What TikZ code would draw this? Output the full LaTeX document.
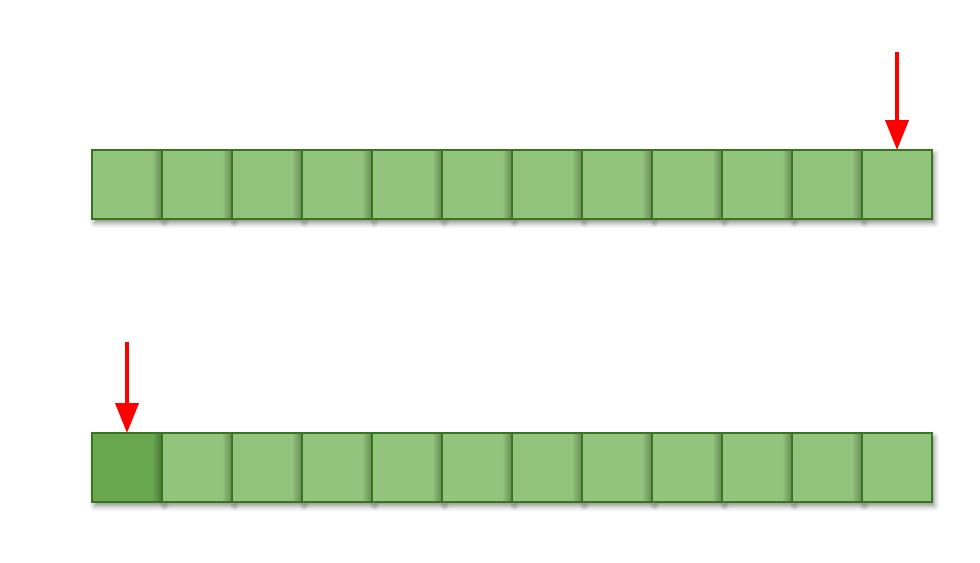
\documentclass[tikz,border=0pt]{standalone}
\usetikzlibrary{arrows.meta,shadows.blur}
\definecolor{cellfill}{HTML}{93C47D}
\definecolor{cellfilldark}{HTML}{6AA84F}
\definecolor{celledge}{HTML}{38761D}
\definecolor{arrowred}{HTML}{FF0000}
\tikzset{
  cell/.style={draw=celledge, fill=cellfill, line width=0.04cm, minimum width=1.4cm, minimum height=1.38cm, inner sep=0pt, outer sep=0pt,
    blur shadow={shadow xshift=0.05cm, shadow yshift=-0.08cm, shadow blur radius=0.1cm, shadow opacity=45}},
  darkcell/.style={cell, fill=cellfilldark},
  edgeshade/.style={left color=#1, right color=#1!72!black, draw=none},
  pointer/.style={draw=arrowred, line width=0.08cm, -{Triangle[width=0.46cm,length=0.6cm]}, arrowred}
}
\begin{document}
\begin{tikzpicture}[x=0.02cm,y=-0.02cm]
\useasboundingbox (0,0) rectangle (980,563);
% top row
\foreach \i in {1,...,12} {
  \node[cell] (a\i) at ({92+70*(\i-1)+35},184.5) {};
}
% bottom row
\node[darkcell] (b1) at (127,467.5) {};
\foreach \i in {2,...,12} {
  \node[cell] (b\i) at ({92+70*(\i-1)+35},467.5) {};
}
% soft shading along the right edge of cells 1-11
\foreach \i in {1,...,11} {
  \shade[edgeshade=cellfill] ([xshift=-0.2cm,yshift=-0.02cm]a\i.north east) rectangle ([xshift=-0.02cm,yshift=0.02cm]a\i.south east);
}
\shade[edgeshade=cellfilldark] ([xshift=-0.2cm,yshift=-0.02cm]b1.north east) rectangle ([xshift=-0.02cm,yshift=0.02cm]b1.south east);
\foreach \i in {2,...,11} {
  \shade[edgeshade=cellfill] ([xshift=-0.2cm,yshift=-0.02cm]b\i.north east) rectangle ([xshift=-0.02cm,yshift=0.02cm]b\i.south east);
}
\coordinate (ta) at (897,52);
\coordinate (tb) at (127,342);
\draw[pointer] (ta) -- (a12.north);
\draw[pointer] (tb) -- (b1.north);
\end{tikzpicture}
\end{document}
